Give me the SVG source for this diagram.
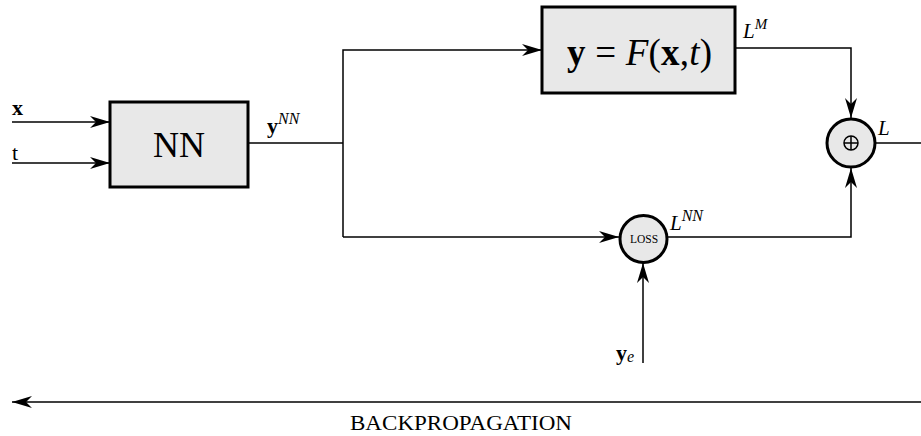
<svg xmlns="http://www.w3.org/2000/svg" width="921" height="436" viewBox="0 0 921 436">
<style>
.box{fill:#e8e8e8;stroke:#000;stroke-width:3}
.ln{fill:none;stroke:#000;stroke-width:1.5}
.t{font-family:"Liberation Serif",serif;fill:#000}
</style>
<defs>
<marker id="ah" viewBox="0 0 20 12" refX="20" refY="6" markerWidth="20" markerHeight="12" markerUnits="userSpaceOnUse" orient="auto">
<path d="M0,0 L20,6 L0,12 L6,6 Z" fill="#000"/>
</marker>
</defs>
<rect width="921" height="436" fill="#fff"/>
<g id="connectors">
<line class="ln" x1="12" y1="122" x2="110" y2="122" marker-end="url(#ah)"/>
<line class="ln" x1="12" y1="163" x2="110" y2="163" marker-end="url(#ah)"/>
<polyline class="ln" points="248,143 343,143"/>
<polyline class="ln" points="343,237 343,50 542,50" marker-end="url(#ah)"/>
<line class="ln" x1="343" y1="237" x2="619" y2="237" marker-end="url(#ah)"/>
<polyline class="ln" points="735,48 851,48 851,118" marker-end="url(#ah)"/>
<polyline class="ln" points="668,237 851,237 851,168" marker-end="url(#ah)"/>
<line class="ln" x1="875" y1="143" x2="921" y2="143"/>
<line class="ln" x1="643" y1="363" x2="643" y2="263" marker-end="url(#ah)"/>
<line class="ln" x1="921" y1="402" x2="12" y2="402" marker-end="url(#ah)"/>
</g>
<g id="nn">
<rect class="box" x="110" y="102" width="138" height="85"/>
<text class="t" x="179" y="157" font-size="36" text-anchor="middle">NN</text>
</g>
<g id="model">
<rect class="box" x="542" y="7" width="193" height="86"/>
<text class="t" x="567" y="65" font-size="37" textLength="145" lengthAdjust="spacing"><tspan font-weight="bold">y</tspan> = <tspan font-style="italic">F</tspan>(<tspan font-weight="bold">x</tspan>,<tspan font-style="italic">t</tspan>)</text>
</g>
<g id="sum">
<circle cx="851" cy="143" r="24" fill="#e8e8e8" stroke="#000" stroke-width="3"/>
<circle cx="851" cy="143" r="7" fill="none" stroke="#000" stroke-width="1.5"/>
<line x1="844" y1="143" x2="858" y2="143" stroke="#000" stroke-width="1.5"/>
<line x1="851" y1="136" x2="851" y2="150" stroke="#000" stroke-width="1.5"/>
</g>
<g id="loss">
<circle cx="643.5" cy="239" r="23.5" fill="#e8e8e8" stroke="#000" stroke-width="3"/>
<text class="t" x="644" y="243" font-size="11.5" text-anchor="middle">LOSS</text>
</g>
<g id="labels">
<text class="t" x="12" y="115" font-size="22" font-weight="bold">x</text>
<text class="t" x="12" y="160" font-size="22">t</text>
<text class="t" x="267" y="133" font-size="22"><tspan font-weight="bold">y</tspan><tspan font-style="italic" font-size="16" dy="-9">NN</tspan></text>
<text class="t" x="743" y="38" font-size="21" font-style="italic">L<tspan font-size="15" dy="-9">M</tspan></text>
<text class="t" x="878" y="135" font-size="21" font-style="italic">L</text>
<text class="t" x="670" y="230" font-size="21" font-style="italic">L<tspan font-size="16" dy="-9">NN</tspan></text>
<text class="t" x="616" y="360" font-size="22"><tspan font-weight="bold">y</tspan><tspan font-style="italic" font-size="16" dy="2">e</tspan></text>
<text class="t" x="350" y="430" font-size="20" textLength="222" lengthAdjust="spacingAndGlyphs">BACKPROPAGATION</text>
</g>
</svg>
